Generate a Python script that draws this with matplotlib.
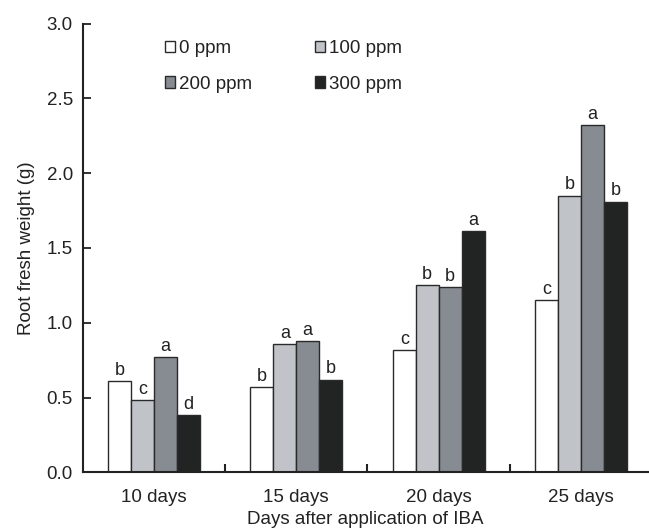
import matplotlib
matplotlib.use("Agg")
import matplotlib.pyplot as plt
import numpy as np
from matplotlib.patches import Patch

plt.rcParams['font.family'] = ['Liberation Sans', 'DejaVu Sans']

groups = ["10 days", "15 days", "20 days", "25 days"]
series = ["0 ppm", "100 ppm", "200 ppm", "300 ppm"]
values = {
    "0 ppm":   [0.61, 0.57, 0.82, 1.15],
    "100 ppm": [0.48, 0.86, 1.25, 1.85],
    "200 ppm": [0.77, 0.88, 1.24, 2.32],
    "300 ppm": [0.38, 0.62, 1.61, 1.81],
}
letters = {
    "0 ppm":   ["b", "b", "c", "c"],
    "100 ppm": ["c", "a", "b", "b"],
    "200 ppm": ["a", "a", "b", "a"],
    "300 ppm": ["d", "b", "a", "b"],
}
colors = ["#ffffff", "#c0c3c8", "#878c92", "#222423"]
y_ticks = [0.0, 0.5, 1.0, 1.5, 2.0, 2.5, 3.0]

W, H = 649, 529
FS = 13.5
fig = plt.figure(figsize=(W / 100, H / 100), dpi=100)
ax = fig.add_axes([82.5 / W, (H - 472.3) / H, 570 / W, (472.3 - 23.5) / H])

x = np.arange(len(groups))
bw = 0.161
txtc = "#222222"
for i, s in enumerate(series):
    xs = x + (i - 1.5) * bw
    ax.bar(xs, values[s], width=bw, color=colors[i], edgecolor="#2a2a2a",
           linewidth=1.0, zorder=2)
    for xi, v, l in zip(xs, values[s], letters[s]):
        ax.annotate(l, (xi, v), xytext=(0, 1.5), textcoords="offset points",
                    ha="center", va="bottom", fontsize=13, color=txtc)

ax.set_xlim(-0.5, 3.5)
ax.set_ylim(0, 3.0)
ax.set_yticks(y_ticks)
ax.set_yticklabels([f"{t:.1f}" for t in y_ticks])
ax.set_xticks([0.5, 1.5, 2.5])
ax.set_xticklabels([])
ax.set_xticks(x, minor=True)
ax.set_xticklabels(groups, minor=True)
ax.tick_params(axis="x", which="major", direction="in", length=6, width=1.5, color="#222")
ax.tick_params(axis="x", which="minor", length=0, pad=12, labelsize=FS, labelcolor=txtc)
ax.tick_params(axis="y", direction="in", length=6, width=1.3, color="#222", pad=7,
               labelsize=FS, labelcolor=txtc)

for sp in ["top", "right"]:
    ax.spines[sp].set_visible(False)
for sp in ["left", "bottom"]:
    ax.spines[sp].set_linewidth(1.5)
    ax.spines[sp].set_color("#222")

ax.set_ylabel("Root fresh weight (g)", fontsize=FS, color=txtc, labelpad=8)
fig.text(365 / W, 1 - 520 / H, "Days after application of IBA", ha="center", va="center",
         fontsize=FS, color=txtc)

handles = [Patch(facecolor=colors[i], edgecolor="#2a2a2a", linewidth=1.0, label=series[i])
           for i in range(4)]
order = [0, 2, 1, 3]
leg = ax.legend([handles[i] for i in order], [series[i] for i in order], ncol=2,
                loc="upper left", bbox_to_anchor=((165 - 82.5) / 570, (472.3 - 40) / (472.3 - 23.5)),
                frameon=False, fontsize=FS, handlelength=0.55, handleheight=0.55,
                handletextpad=0.2, columnspacing=3.35, labelspacing=1.0, borderaxespad=0,
                borderpad=0)
for t in leg.get_texts():
    t.set_color(txtc)

fig.savefig("out.png", dpi=100)
